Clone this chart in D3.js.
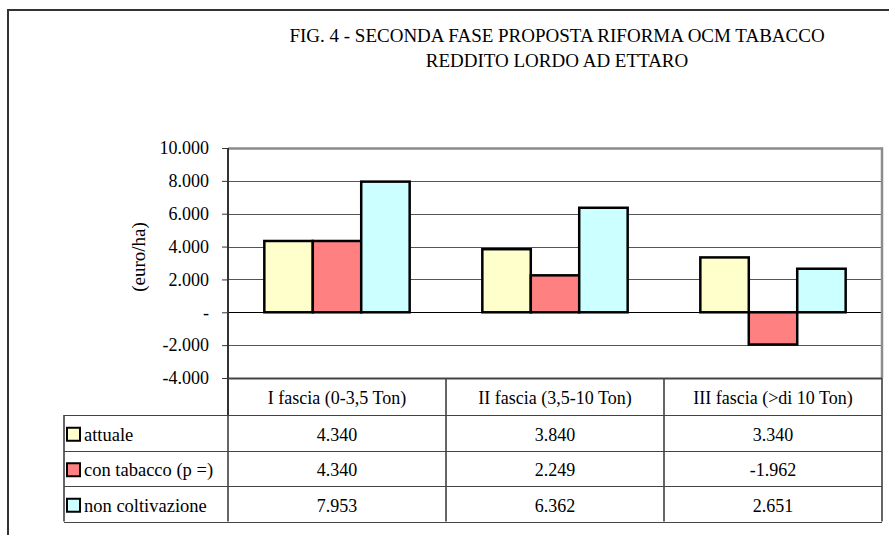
<!DOCTYPE html>
<html>
<meta charset="utf-8">
<script src="https://d3js.org/d3.v7.min.js"></script>
<style>
    body { margin: 0; background: #fff; }
    text { font-family: "Liberation Serif", "DejaVu Serif", serif; fill: #000; }
</style>
<body>
    <svg width="889" height="535"></svg>
    <script>
        // data
        const categories = ["I fascia (0-3,5 Ton)", "II fascia (3,5-10 Ton)", "III fascia (>di 10 Ton)"];
        const seriesNames = ["attuale", "con tabacco (p =)", "non coltivazione"];
        const attuale = [4340, 3840, 3340];
        const conTabacco = [4340, 2249, -1962];
        const nonColtivazione = [7953, 6362, 2651];
        const yTicks = [-4000, -2000, 0, 2000, 4000, 6000, 8000, 10000];
        const colors = ["#FFFFCC", "#FF8080", "#CCFFFF"];
        const titleLines = ["FIG. 4 - SECONDA FASE PROPOSTA RIFORMA OCM TABACCO", "REDDITO LORDO AD ETTARO"];

        const series = [attuale, conTabacco, nonColtivazione];

        let svg = d3.select("svg");
        const plot = { left: 228, right: 882, top: 148, bottom: 378 };
        const rowH = 35.5, headerH = 37, tableLeft = 64;

        const it = d3.formatLocale({ decimal: ",", thousands: ".", grouping: [3], currency: ["", "€"], minus: "-" });
        const fmt = v => v === 0 ? "-" : it.format(",d")(v);

        let x = d3.scaleBand().domain(categories).range([plot.left, plot.right]);
        let xInner = d3.scaleBand().domain(d3.range(3)).range([0, x.bandwidth()]).paddingOuter(0.75);
        let y = d3.scaleLinear().domain([-4000, 10000]).range([plot.bottom, plot.top]);

        // outer frame
        svg.append("rect").attr("x", 8).attr("y", 10).attr("width", 900).attr("height", 600)
            .attr("fill", "none").attr("stroke", "#333").attr("stroke-width", 2);

        // title
        svg.selectAll("text.title").data(titleLines).enter().append("text")
            .attr("class", "title")
            .attr("x", 557).attr("y", (d, i) => 42 + i * 25)
            .attr("text-anchor", "middle").style("font-size", "19px")
            .text(d => d);

        // gridlines
        svg.append("g").selectAll("line").data(yTicks.filter(t => t !== 10000)).enter().append("line")
            .attr("x1", plot.left).attr("x2", plot.right)
            .attr("y1", d => Math.round(y(d)) + 0.5).attr("y2", d => Math.round(y(d)) + 0.5)
            .attr("stroke", d => d === 0 ? "#000" : "#555").attr("stroke-width", 1);

        // plot area border (top / right)
        svg.append("path")
            .attr("d", `M${plot.left},${plot.top + 0.5}H${plot.right}V${plot.bottom}`)
            .attr("fill", "none").attr("stroke", "#8c8c8c").attr("stroke-width", 2.5);

        // bars
        series.forEach((vals, s) => {
            svg.append("g").selectAll("rect").data(vals).enter().append("rect")
                .attr("x", (d, i) => x(categories[i]) + xInner(s))
                .attr("width", xInner.bandwidth())
                .attr("y", d => y(Math.max(0, d)))
                .attr("height", d => Math.abs(y(d) - y(0)))
                .attr("fill", colors[s]).attr("stroke", "#000").attr("stroke-width", 2.5);
        });

        // y axis
        let yAxis = d3.axisLeft(y).tickValues(yTicks).tickFormat(fmt).tickSize(6).tickSizeOuter(0);
        let gy = svg.append("g").attr("transform", `translate(${plot.left},0)`).call(yAxis);
        gy.select(".domain").attr("stroke", "#333").attr("stroke-width", 2).attr("d", `M0,${plot.top}V${plot.bottom + headerH}`);
        gy.selectAll(".tick line").attr("stroke", "#333");
        gy.selectAll(".tick text").attr("x", -19).style("font-size", "18px").style("font-family", "Liberation Serif");

        svg.append("text")
            .attr("transform", "translate(145,257) rotate(-90)")
            .attr("text-anchor", "middle").style("font-size", "19px")
            .text("(euro/ha)");

        // data table
        const table = svg.append("g");
        const tTop = plot.bottom, rowsTop = plot.bottom + headerH, tBottom = rowsTop + 3 * rowH;
        x.domain().forEach((c, i) => {
            table.append("line").attr("x1", x(c) + x.bandwidth()).attr("x2", x(c) + x.bandwidth())
                .attr("y1", tTop).attr("y2", tBottom).attr("stroke", "#333").attr("stroke-width", 1.5);
        });
        table.append("line").attr("x1", tableLeft).attr("x2", tableLeft).attr("y1", rowsTop).attr("y2", tBottom)
            .attr("stroke", "#333").attr("stroke-width", 1.5);
        table.append("line").attr("x1", plot.left).attr("x2", plot.left).attr("y1", plot.bottom).attr("y2", tBottom)
            .attr("stroke", "#333").attr("stroke-width", 1.5);
        [tTop, rowsTop, rowsTop + rowH, rowsTop + 2 * rowH, tBottom].forEach((yy, i) => {
            table.append("line").attr("x1", i === 0 ? plot.left : tableLeft).attr("x2", plot.right)
                .attr("y1", Math.round(yy) + 0.5).attr("y2", Math.round(yy) + 0.5)
                .attr("stroke", "#444").attr("stroke-width", i === 0 ? 2 : 1.2);
        });

        table.selectAll("text.cat").data(categories).enter().append("text")
            .attr("x", d => x(d) + x.bandwidth() / 2).attr("y", tTop + 26)
            .attr("text-anchor", "middle").style("font-size", "18px").text(d => d);

        series.forEach((vals, s) => {
            const cy = rowsTop + s * rowH + rowH / 2;
            table.append("rect").attr("x", 67).attr("y", cy - 5).attr("width", 13).attr("height", 13)
                .attr("fill", colors[s]).attr("stroke", "#000").attr("stroke-width", 2);
            table.append("text").attr("x", 84).attr("y", cy + 8).style("font-size", "18.5px").text(seriesNames[s]);
            table.selectAll("text.v" + s).data(vals).enter().append("text")
                .attr("x", (d, i) => x(categories[i]) + x.bandwidth() / 2).attr("y", cy + 8)
                .attr("text-anchor", "middle").style("font-size", "18px").text(d => fmt(d));
        });
    </script>
</body>
</html>
